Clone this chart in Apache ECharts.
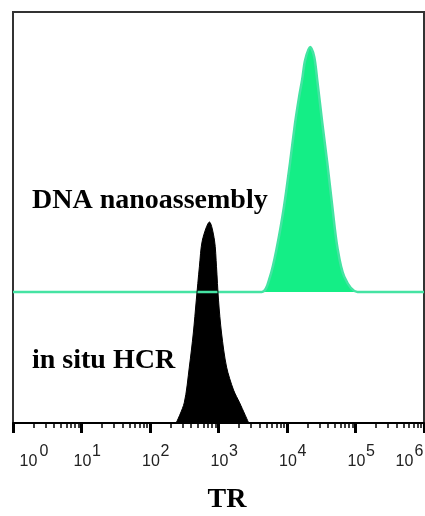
<!DOCTYPE html>
<html>
<head>
<meta charset="utf-8">
<script src="https://cdn.jsdelivr.net/npm/echarts@6/dist/echarts.min.js"></script>
<style>
  html, body { margin: 0; padding: 0; background: #fff; }
  #chart { width: 425px; height: 516px; }
</style>
</head>
<body>
<div id="chart"></div>
<script>
// decade exponents for the TR axis
const decadeExps = [0, 1, 2, 3, 4, 5, 6];

// in situ HCR histogram (TR intensity, relative counts)
const hcrTR = [241, 316, 375, 429, 474, 526, 582, 738, 873, 935, 1000, 1107, 1312, 1660, 2037, 2761];
const hcrCount = [0, 4.9, 13.6, 21.9, 29.9, 38, 44.5, 48.9, 44.5, 38, 29.9, 21.9, 13.6, 8.0, 4.9, 0];

// DNA nanoassembly histogram, offset upward
const nanoBase = 31.9;
const nanoTR = [1, 4285, 5623, 7129, 9036, 11066, 13122, 14997, 16634, 18408, 21777, 24946, 27606, 32734, 38726, 45920, 54325, 68865, 106905, 1000000];
const nanoCount = [31.9, 31.9, 35.5, 42.8, 52.6, 63.3, 73, 79.3, 83.5, 88.3, 91.5, 89.1, 83.5, 73, 63.3, 52.6, 42.8, 35.5, 31.9, 31.9];

const decadeValues = decadeExps.map((e) => Math.pow(10, e));
const minorValues = [];
decadeExps.slice(0, -1).forEach((e) => {
  for (let m = 2; m <= 9; m++) minorValues.push(m * Math.pow(10, e));
});

const lastIdx = decadeExps.length - 1;
const labelFont = { fontFamily: "Liberation Sans", fontSize: 16, color: "#222" };

const chart = echarts.init(document.getElementById("chart"), null, { renderer: "canvas" });

chart.setOption({
  animation: false,
  backgroundColor: "#fff",
  grid: {
    left: 13, right: 1, top: 12, bottom: 93,
    outerBoundsMode: "none", containLabel: false,
    show: true, borderColor: "#333", borderWidth: 2,
  },
  xAxis: [
    {
      // major ticks and the "10" base of each label
      type: "log",
      logBase: 10,
      min: 1,
      max: 1000000,
      axisLine: { show: true, lineStyle: { color: "#000", width: 2 } },
      axisTick: { show: true, length: 10, lineStyle: { color: "#000", width: 3 } },
      splitLine: { show: false },
      axisLabel: {
        margin: 31,
        customValues: decadeValues,
        formatter: (v) => {
          const e = Math.round(Math.log10(v));
          return e === decadeExps[0] ? "{f|10}" : e === decadeExps[lastIdx] ? "{l|10}" : "{m|10}";
        },
        rich: {
          f: { ...labelFont, padding: [0, 0, 0, 31] },
          m: { ...labelFont, padding: [0, 0, 0, 2] },
          l: { ...labelFont, padding: [0, 39, 0, 0] },
        },
      },
    },
    {
      // minor ticks and the exponent of each label
      type: "log",
      logBase: 10,
      min: 1,
      max: 1000000,
      position: "bottom",
      axisLine: { show: false },
      splitLine: { show: false },
      axisTick: { show: true, length: 5, customValues: minorValues, lineStyle: { color: "#000", width: 1.5 } },
      axisLabel: {
        margin: 21,
        customValues: decadeValues,
        formatter: (v) => {
          const e = Math.round(Math.log10(v));
          const k = e === decadeExps[0] ? "f" : e === decadeExps[lastIdx] ? "l" : "m";
          return "{" + k + "|" + e + "}";
        },
        rich: {
          f: { ...labelFont, padding: [0, 0, 0, 62] },
          m: { ...labelFont, padding: [0, 0, 0, 30] },
          l: { ...labelFont, padding: [0, 10, 0, 0] },
        },
      },
    },
  ],
  yAxis: { type: "value", min: 0, max: 100, show: false },
  series: [
    {
      name: "DNA nanoassembly",
      type: "line",
      symbol: "none",
      smooth: 0.3,
      data: nanoTR.map((x, i) => [x, nanoCount[i]]),
      lineStyle: { color: "#45e3a3", width: 2.5 },
      areaStyle: { color: "#14ee86", origin: nanoBase, opacity: 1 },
    },
    {
      name: "in situ HCR",
      type: "line",
      symbol: "none",
      smooth: 0.3,
      data: hcrTR.map((x, i) => [x, hcrCount[i]]),
      lineStyle: { color: "#000", width: 1 },
      areaStyle: { color: "#000", origin: "start", opacity: 1 },
    },
  ],
  graphic: [
    { type: "text", x: 32, y: 201, style: { text: "DNA nanoassembly", font: "bold 28px 'Liberation Serif'", fill: "#000", verticalAlign: "middle" } },
    { type: "text", x: 32, y: 361, style: { text: "in situ HCR", font: "bold 28px 'Liberation Serif'", fill: "#000", verticalAlign: "middle" } },
    { type: "text", x: 227, y: 500, style: { text: "TR", font: "bold 28px 'Liberation Serif'", fill: "#000", align: "center", verticalAlign: "middle" } },
  ],
});
</script>
</body>
</html>
